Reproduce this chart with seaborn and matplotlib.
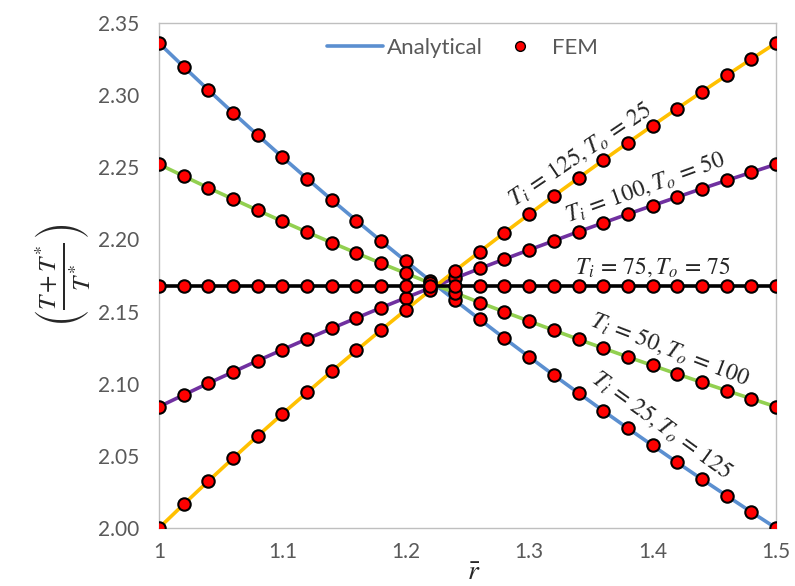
import matplotlib
matplotlib.use("Agg")
import matplotlib.pyplot as plt
from matplotlib.lines import Line2D
import seaborn as sns
import pandas as pd

# Dimensionless radius positions of the FEM nodes
r_bar = [1.00, 1.02, 1.04, 1.06, 1.08, 1.10, 1.12, 1.14, 1.16, 1.18, 1.20, 1.22, 1.24,
         1.26, 1.28, 1.30, 1.32, 1.34, 1.36, 1.38, 1.40, 1.42, 1.44, 1.46, 1.48, 1.50]

# (T + T*) / T* for each boundary-temperature case
case_25_125 = [2.336, 2.3196, 2.3035, 2.2877, 2.2722, 2.2570, 2.2421, 2.2274, 2.2130,
               2.1988, 2.1849, 2.1712, 2.1577, 2.1445, 2.1314, 2.1186, 2.1059, 2.0935,
               2.0812, 2.0691, 2.0572, 2.0454, 2.0338, 2.0224, 2.0111, 2.000]
case_50_100 = [2.252, 2.2438, 2.2357, 2.2279, 2.2201, 2.2125, 2.2050, 2.1977, 2.1905,
               2.1834, 2.1765, 2.1696, 2.1629, 2.1562, 2.1497, 2.1433, 2.1370, 2.1307,
               2.1246, 2.1185, 2.1126, 2.1067, 2.1009, 2.0952, 2.0896, 2.084]
case_100_50 = [2.084, 2.0922, 2.1003, 2.1081, 2.1159, 2.1235, 2.1310, 2.1383, 2.1455,
               2.1526, 2.1595, 2.1664, 2.1731, 2.1798, 2.1863, 2.1927, 2.1990, 2.2053,
               2.2114, 2.2175, 2.2234, 2.2293, 2.2351, 2.2408, 2.2464, 2.252]
case_125_25 = [2.000, 2.0164, 2.0325, 2.0483, 2.0638, 2.0790, 2.0939, 2.1086, 2.1230,
               2.1372, 2.1511, 2.1648, 2.1783, 2.1915, 2.2046, 2.2174, 2.2301, 2.2425,
               2.2548, 2.2669, 2.2788, 2.2906, 2.3022, 2.3136, 2.3249, 2.336]
case_75_75 = [2.168] * 26

case_names = ["25-125", "50-100", "100-50", "125-25", "75-75"]
case_values = [case_25_125, case_50_100, case_100_50, case_125_25, case_75_75]
case_colors = ["#5B8FD0", "#92D050", "#7030A0", "#FFC000", "#000000"]
case_labels = [r"$T_i\,=\,25, T_o\,=\,125$", r"$T_i\,=\,50, T_o\,=\,100$",
               r"$T_i\,=\,100, T_o\,=\,50$", r"$T_i\,=\,125, T_o\,=\,25$",
               r"$T_i\,=\,75, T_o\,=\,75$"]
label_pos = [(1.4076, 2.0715, -36), (1.414, 2.124, -21), (1.394, 2.236, 20),
             (1.341, 2.259, 34), (1.400, 2.181, 0)]

x_ticks = [1, 1.1, 1.2, 1.3, 1.4, 1.5]
x_tick_labels = ["1", "1.1", "1.2", "1.3", "1.4", "1.5"]
y_ticks = [2.00, 2.05, 2.10, 2.15, 2.20, 2.25, 2.30, 2.35]

rows = []
for name, vals in zip(case_names, case_values):
    for r, v in zip(r_bar, vals):
        rows.append({"r": r, "theta": v, "case": name})
df = pd.DataFrame(rows)

sns.set_theme(style="white")
plt.rcParams["font.family"] = ["Lato", "DejaVu Sans"]
plt.rcParams["mathtext.fontset"] = "stix"

fig = plt.figure(figsize=(7.95, 5.86), dpi=100)
ax = fig.add_axes([0.2, 0.099, 0.776, 0.862])

sns.lineplot(data=df, x="r", y="theta", hue="case", hue_order=case_names,
             palette=dict(zip(case_names, case_colors)), linewidth=2.6,
             legend=False, ax=ax, sort=False)
sns.scatterplot(data=df, x="r", y="theta", color="#FF0000", edgecolor="black",
                linewidth=1.5, s=80, legend=False, ax=ax, zorder=5)

for lab, (lx, ly, rot), col in zip(case_labels, label_pos, case_colors):
    ax.text(lx, ly, lab, rotation=rot, ha="center", va="center", fontsize=17,
            color="#262626", rotation_mode="anchor", zorder=6)

ax.set_xlim(1, 1.5)
ax.set_ylim(2.0, 2.35)
ax.set_xticks(x_ticks)
ax.set_xticklabels(x_tick_labels)
ax.set_yticks(y_ticks)
ax.set_yticklabels([f"{v:.2f}" for v in y_ticks])
ax.tick_params(axis="both", length=0, labelsize=15, labelcolor="#595959")
ax.tick_params(axis="x", pad=10)
ax.tick_params(axis="y", pad=14)

for sp in ax.spines.values():
    sp.set_color("#BFBFBF")
    sp.set_linewidth(1.0)

xl = ax.set_xlabel(r"$\bar{r}$", fontsize=20, color="#262626")
xl.set_va("bottom")
ax.xaxis.set_label_coords(0.51, -0.113)
ax.set_ylabel(r"$\left(\frac{T+T^{*}}{T^{*}}\right)$", fontsize=26,
              color="#262626", labelpad=4)

handles = [Line2D([0], [0], color=case_colors[0], lw=2.6),
           Line2D([0], [0], marker="o", ls="none", markerfacecolor="#FF0000",
                  markeredgecolor="black", markersize=7, markeredgewidth=1)]
leg = ax.legend(handles, ["Analytical", "FEM"], loc="center",
                bbox_to_anchor=(0.492, 0.95), ncol=2, frameon=False, fontsize=16,
                handlelength=2.5, handletextpad=0.2, columnspacing=0.4)
for t in leg.get_texts():
    t.set_color("#595959")

fig.savefig("out.png", dpi=100)
